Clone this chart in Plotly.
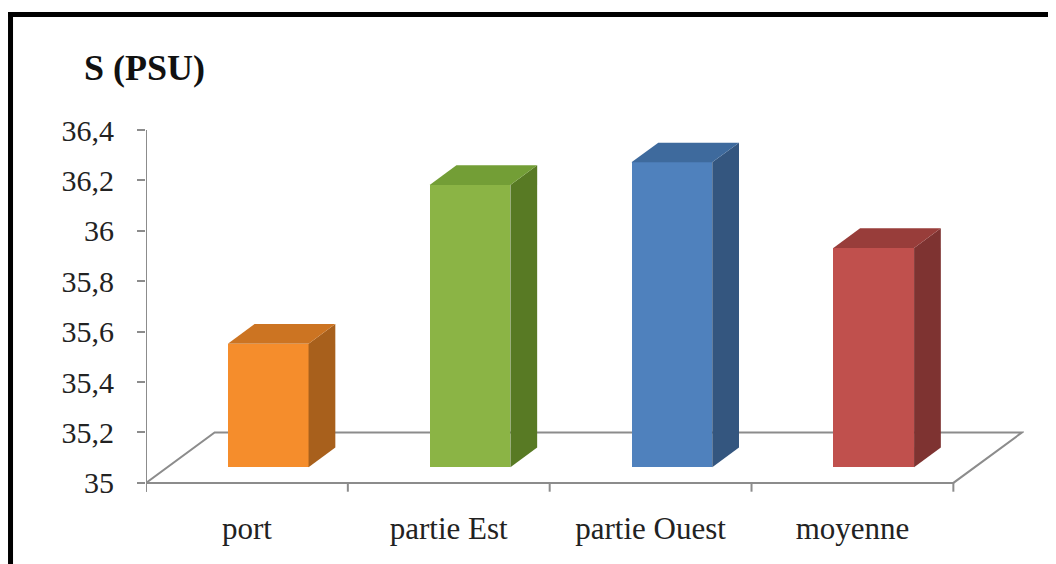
import plotly.graph_objects as go

categories = ["port", "partie Est", "partie Ouest", "moyenne"]
salinity = [35.49, 36.12, 36.21, 35.87]
y_ticks = [35, 35.2, 35.4, 35.6, 35.8, 36, 36.2, 36.4]
y_tick_labels = ["35", "35,2", "35,4", "35,6", "35,8", "36", "36,2", "36,4"]
front_colors = ["#F58D2C", "#8BB445", "#4F81BD", "#C0504D"]
side_colors = ["#A8601C", "#587A24", "#34567F", "#7E3331"]
top_colors = ["#CC7422", "#739E36", "#3E6A9D", "#983D3A"]

SERIF = "Times New Roman, Liberation Serif, DejaVu Serif, serif"

Y0 = 35.0
FLOOR_DX = 0.34    # x shift of the floor depth (category units)
FLOOR_DY = 0.2     # y shift of the floor depth (value units)
D_FRONT, D_BACK = 0.31, 0.70
BAR_W = 0.40

fig = go.Figure()

xs = list(range(len(categories)))
base = Y0 + D_FRONT * FLOOR_DY
cx = [x + D_FRONT * FLOOR_DX for x in xs]
ddx = (D_BACK - D_FRONT) * FLOOR_DX
ddy = (D_BACK - D_FRONT) * FLOOR_DY

# front faces
fig.add_trace(go.Bar(
    x=cx, y=[v - Y0 for v in salinity], base=base, width=BAR_W,
    marker=dict(color=front_colors, line=dict(width=0)),
    showlegend=False, hoverinfo="skip"))

# side and top faces
for i, v in enumerate(salinity):
    xl = cx[i] - BAR_W / 2
    xr = cx[i] + BAR_W / 2
    top = v + D_FRONT * FLOOR_DY
    fig.add_trace(go.Scatter(
        x=[xr, xr, xr + ddx, xr + ddx, xr],
        y=[base, top, top + ddy, base + ddy, base],
        fill="toself", fillcolor=side_colors[i], mode="lines",
        line=dict(width=0), showlegend=False, hoverinfo="skip"))
    fig.add_trace(go.Scatter(
        x=[xl, xr, xr + ddx, xl + ddx, xl],
        y=[top, top, top + ddy, top + ddy, top],
        fill="toself", fillcolor=top_colors[i], mode="lines",
        line=dict(width=0), showlegend=False, hoverinfo="skip"))

gray = "#8C8C8C"
x_left, x_right = -0.5, len(categories) - 0.5
shapes = []
# floor
shapes.append(dict(type="path", xref="x", yref="y", layer="below",
                   path=f"M{x_left},{Y0} L{x_right},{Y0} L{x_right+FLOOR_DX},{Y0+FLOOR_DY} "
                        f"L{x_left+FLOOR_DX},{Y0+FLOOR_DY} Z",
                   line=dict(color=gray, width=2), fillcolor="white"))
# y axis line
shapes.append(dict(type="line", xref="x", yref="y", layer="below",
                   x0=x_left, x1=x_left, y0=Y0 - 0.035, y1=y_ticks[-1],
                   line=dict(color=gray, width=2)))
# category boundary ticks
for k in range(len(categories) + 1):
    xb = x_left + k
    shapes.append(dict(type="line", xref="x", yref="y", layer="below",
                       x0=xb, x1=xb, y0=Y0, y1=Y0 - 0.035,
                       line=dict(color=gray, width=2)))
# outer black frame
shapes.append(dict(type="rect", xref="paper", yref="paper",
                   x0=-0.1543, x1=1.06, y0=-0.25, y1=1.2962,
                   line=dict(color="black", width=5), fillcolor="rgba(0,0,0,0)"))

fig.update_layout(
    width=1056, height=564,
    margin=dict(l=138, r=40, t=117, b=74),
    paper_bgcolor="white", plot_bgcolor="white",
    bargap=0,
    shapes=shapes,
    font=dict(family=SERIF, color="#222222"),
    annotations=[dict(text="<b>S (PSU)</b>", xref="paper", yref="paper",
                      x=-0.002, y=1.153, xanchor="center", yanchor="middle",
                      showarrow=False, font=dict(size=36, color="#111111",
                                                 family=SERIF))],
)
fig.update_xaxes(range=[x_left, 3.85], tickvals=xs, ticktext=categories,
                 showgrid=False, zeroline=False, showline=False, ticks="",
                 ticklabelstandoff=9, tickfont=dict(size=31, family=SERIF))
fig.update_yaxes(range=[34.94, 36.42], tickvals=y_ticks, ticktext=y_tick_labels,
                 showgrid=False, zeroline=False, showline=False,
                 ticks="outside", ticklen=8, tickwidth=2, tickcolor=gray,
                 ticklabelstandoff=17, tickfont=dict(size=30, family=SERIF))

fig.write_html("out.html")
